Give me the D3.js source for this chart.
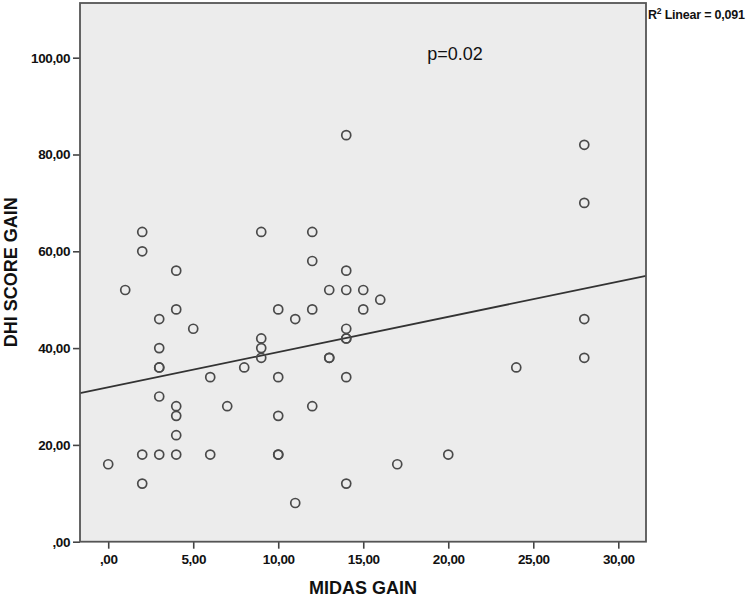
<!DOCTYPE html>
<html>
<head>
<meta charset="utf-8">
<script src="https://cdn.jsdelivr.net/npm/d3@7"></script>
<style>
  body { margin: 0; background: #fff; }
  svg { display: block; }
  text { font-family: "Liberation Sans", Arial, sans-serif; }
</style>
</head>
<body>
<svg id="chart" width="752" height="597"></svg>
<script>
// ---- data ----
const midasGain = [0, 1, 2, 2, 2, 2, 3, 3, 3, 3, 3, 3, 4, 4, 4, 4, 4, 4, 5, 6, 6, 7, 8,
  9, 9, 9, 9, 10, 10, 10, 10, 10, 11, 11, 12, 12, 12, 12, 13, 13, 13,
  14, 14, 14, 14, 14, 14, 14, 14, 15, 15, 16, 17, 20, 24, 28, 28, 28, 28];
const dhiGain = [16, 52, 64, 60, 18, 12, 46, 40, 36, 36, 30, 18, 56, 48, 28, 26, 22, 18, 44, 34, 18, 28, 36,
  64, 42, 40, 38, 48, 34, 26, 18, 18, 46, 8, 64, 58, 48, 28, 52, 38, 38,
  84, 56, 52, 44, 42, 42, 34, 12, 52, 48, 50, 16, 18, 36, 82, 70, 46, 38];
const xTicks = [0, 5, 10, 15, 20, 25, 30];
const yTicks = [0, 20, 40, 60, 80, 100];
const fitIntercept = 31.9;
const fitSlope = 0.728;
const r2Label = "Linear = 0,091";
const pLabel = "p=0.02";
const xTitle = "MIDAS GAIN";
const yTitle = "DHI SCORE GAIN";

// ---- layout ----
const L = 80, R = 646, T = 3, B = 541.7;
const svg = d3.select("#chart");
const x = d3.scaleLinear().domain([-1.66, 31.63]).range([L, R]);
const y = d3.scaleLinear().domain([0, 111.3]).range([B, T]);
const fmt = v => v === 0 ? ",00" : d3.format(".2f")(v).replace(".", ",");

svg.append("rect").attr("x", L).attr("y", T).attr("width", R - L).attr("height", B - T)
  .attr("fill", "#ececec");

// axes
const xAxis = svg.append("g").attr("transform", `translate(0,${B})`)
  .call(d3.axisBottom(x).tickValues(xTicks).tickSize(7).tickPadding(6).tickFormat(fmt));
const yAxis = svg.append("g").attr("transform", `translate(${L},0)`)
  .call(d3.axisLeft(y).tickValues(yTicks).tickSize(7).tickPadding(3).tickFormat(fmt));
[xAxis, yAxis].forEach(g => {
  g.select(".domain").remove();
  g.selectAll(".tick line").attr("stroke", "#444").attr("stroke-width", 1.6);
  g.selectAll(".tick text").attr("fill", "#111").style("font-size", "13.5px")
    .style("font-weight", "bold").style("letter-spacing", "-0.4px");
});

// fit line
const xd = x.domain();
svg.append("line")
  .attr("x1", x(xd[0])).attr("y1", y(fitIntercept + fitSlope * xd[0]))
  .attr("x2", x(xd[1])).attr("y2", y(fitIntercept + fitSlope * xd[1]))
  .attr("stroke", "#333").attr("stroke-width", 1.8);

// points
svg.append("g").selectAll("circle").data(midasGain.map((d, i) => [d, dhiGain[i]]))
  .join("circle")
  .attr("cx", d => x(d[0])).attr("cy", d => y(d[1])).attr("r", 4.5)
  .attr("fill", "none").attr("stroke", "#4a4a4a").attr("stroke-width", 1.7);

// frame
svg.append("rect").attr("x", L).attr("y", T).attr("width", R - L).attr("height", B - T)
  .attr("fill", "none").attr("stroke", "#555").attr("stroke-width", 1.8);

// texts
svg.append("text").attr("x", 455).attr("y", 60).attr("text-anchor", "middle")
  .style("font-size", "18px").attr("fill", "#111").text(pLabel);

const r2 = svg.append("text").attr("x", 648).attr("y", 19)
  .style("font-size", "12.5px").style("font-weight", "bold").style("letter-spacing", "-0.2px")
  .attr("fill", "#111");
r2.append("tspan").text("R");
r2.append("tspan").attr("dy", -5).style("font-size", "8.5px").text("2");
r2.append("tspan").attr("dy", 5).text(" " + r2Label);

svg.append("text").attr("x", (L + R) / 2).attr("y", 594).attr("text-anchor", "middle")
  .style("font-size", "18px").style("font-weight", "bold").attr("fill", "#111").text(xTitle);

svg.append("text").attr("transform", `translate(17,${(T + B) / 2}) rotate(-90)`)
  .attr("text-anchor", "middle")
  .style("font-size", "18px").style("font-weight", "bold").attr("fill", "#111").text(yTitle);
</script>
</body>
</html>
